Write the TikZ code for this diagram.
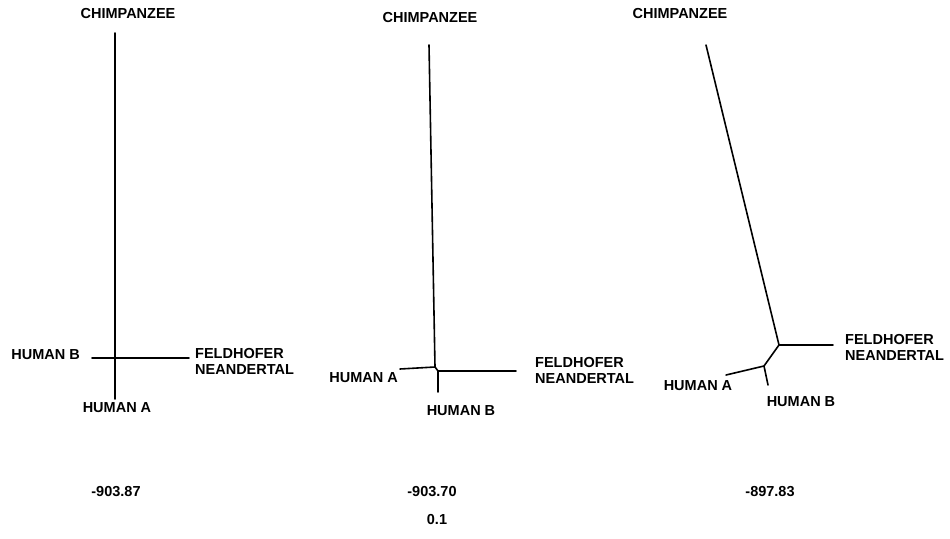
\documentclass[tikz,border=0pt]{standalone}
\usepackage{fontspec}
\setmainfont{Liberation Sans}
\begin{document}
\begin{tikzpicture}[x=1pt,y=-1pt,
  br/.style={line width=1.6pt, line cap=round},
  lab/.style={font=\fontsize{14.5}{16}\selectfont\bfseries, inner sep=0pt},
  lab2/.style={lab, align=left}]
\useasboundingbox (0,0) rectangle (950,538);
% ---------- tree 1 ----------
\coordinate (c1) at (115,33);
\coordinate (j1) at (115,358);
\coordinate (a1) at (115,399);
\coordinate (b1) at (92,358);
\coordinate (f1) at (189,358);
\draw[br] (c1) -- (j1) -- (a1);
\draw[br] (b1) -- (j1) -- (f1);
\node[lab] (tc1) at (128,14) {CHIMPANZEE};
\node[lab, anchor=east] (tb1) at (80,355) {HUMAN B};
\node[lab2, anchor=west] (tf1) at (195,361) {FELDHOFER\\NEANDERTAL};
\node[lab] (ta1) at (117,408) {HUMAN A};
\node[lab] (s1) at (116,492) {-903.87};
% ---------- tree 2 ----------
\coordinate (c2) at (429,45);
\coordinate (j2) at (435,367);
\coordinate (k2) at (438,371);
\coordinate (a2) at (400,369);
\coordinate (b2) at (438,392);
\coordinate (f2) at (516,371);
\draw[br] (c2) -- (j2) -- (k2) -- (f2);
\draw[br] (a2) -- (j2);
\draw[br] (k2) -- (b2);
\node[lab] (tc2) at (430,18) {CHIMPANZEE};
\node[lab, anchor=east] (ta2) at (398,378) {HUMAN A};
\node[lab] (tb2) at (461,411) {HUMAN B};
\node[lab2, anchor=west] (tf2) at (535,370) {FELDHOFER\\NEANDERTAL};
\node[lab] (s2) at (432,492) {-903.70};
% ---------- tree 3 ----------
\coordinate (c3) at (706,45);
\coordinate (j3) at (779,345);
\coordinate (k3) at (764,366);
\coordinate (a3) at (726,375);
\coordinate (b3) at (768,385);
\coordinate (f3) at (833,345);
\draw[br] (c3) -- (j3) -- (f3);
\draw[br] (j3) -- (k3) -- (a3);
\draw[br] (k3) -- (b3);
\node[lab] (tc3) at (680,14) {CHIMPANZEE};
\node[lab] (ta3) at (698,386) {HUMAN A};
\node[lab] (tb3) at (801,402) {HUMAN B};
\node[lab2, anchor=west] (tf3) at (845,347) {FELDHOFER\\NEANDERTAL};
\node[lab] (s3) at (770,492) {-897.83};
% ---------- scale ----------
\node[lab] (sc) at (437,520) {0.1};
\end{tikzpicture}
\end{document}
